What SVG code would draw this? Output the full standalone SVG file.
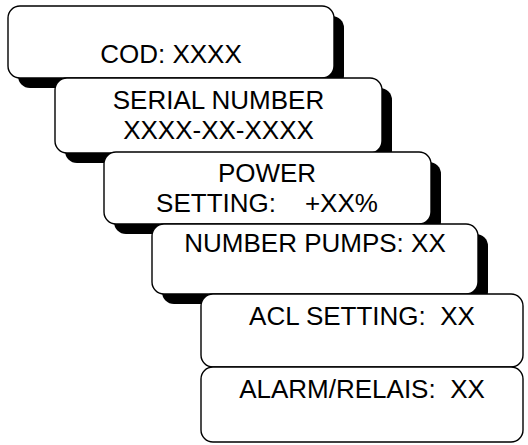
<svg xmlns="http://www.w3.org/2000/svg" width="528" height="445" viewBox="0 0 528 445">
<style>
.box{fill:#fff;stroke:#000;stroke-width:1.4}
.sh{fill:#000}
.t{font-family:"Liberation Sans",Arial,sans-serif;font-size:26px;fill:#000;text-anchor:middle;white-space:pre}
</style>
<rect width="528" height="445" fill="#fff"/>
<g id="n1">
<rect class="sh" x="18" y="16" width="326" height="72" rx="12"/>
<rect class="box" x="8" y="6" width="326" height="72" rx="12"/>
<text class="t" x="171" y="63">COD: XXXX</text>
</g>
<g id="n2">
<rect class="sh" x="65" y="88" width="327" height="75" rx="12"/>
<rect class="box" x="55" y="78" width="327" height="75" rx="12"/>
<text class="t" x="218.5" y="109">SERIAL NUMBER</text>
<text class="t" x="218.5" y="139">XXXX-XX-XXXX</text>
</g>
<g id="n3">
<rect class="sh" x="114" y="162" width="327" height="72" rx="12"/>
<rect class="box" x="104" y="152" width="327" height="72" rx="12"/>
<text class="t" x="267" y="182">POWER</text>
<text class="t" x="267" y="212" xml:space="preserve">SETTING:    +XX%</text>
</g>
<g id="n4">
<rect class="sh" x="162" y="234" width="326" height="70" rx="12"/>
<rect class="box" x="152" y="224" width="326" height="70" rx="12"/>
<text class="t" x="315" y="252">NUMBER PUMPS: XX</text>
</g>
<g id="n5">
<rect class="box" x="201" y="294" width="322" height="73" rx="12"/>
<text class="t" x="362" y="325" xml:space="preserve">ACL SETTING:  XX</text>
</g>
<g id="n6">
<rect class="box" x="201" y="367" width="322" height="75" rx="12"/>
<text class="t" x="362" y="398" xml:space="preserve">ALARM/RELAIS:  XX</text>
</g>
<g id="connectors"></g>
</svg>
